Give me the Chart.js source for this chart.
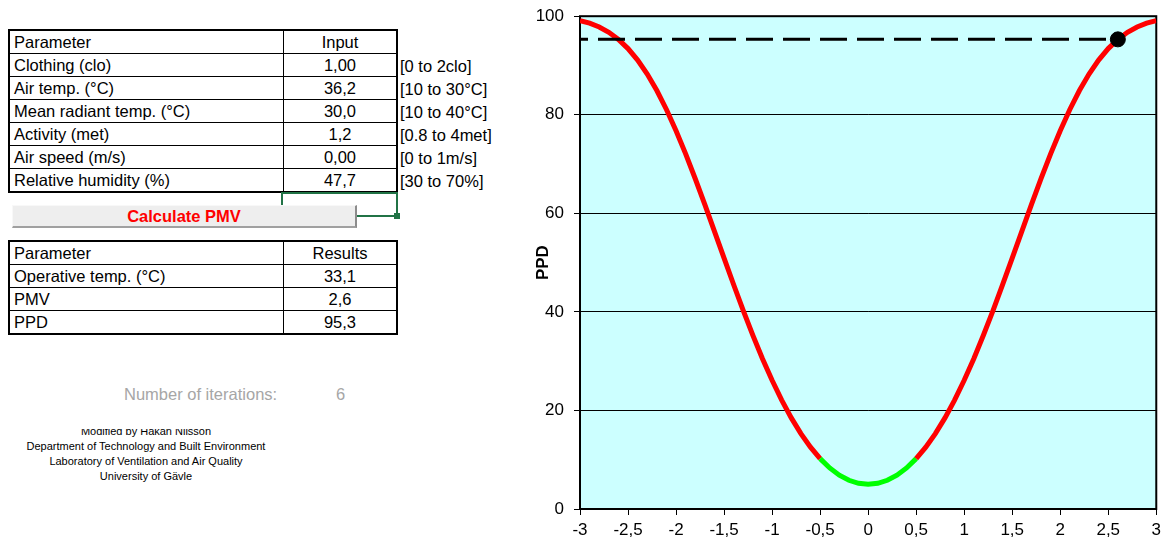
<!DOCTYPE html>
<html>
<head>
<meta charset="utf-8">
<script src="https://cdn.jsdelivr.net/npm/chart.js@4.4.1/dist/chart.umd.min.js"></script>
<style>
body { margin:0; width:1166px; height:544px; background:#fff; font-family:"Liberation Sans", Arial, sans-serif; position:relative; overflow:hidden; }
.tbl { position:absolute; left:8px; border-collapse:collapse; border:2px solid #000; font-size:16.5px; color:#000; }
.tbl td { border:1px solid #000; padding:0 4px; height:22px; line-height:20px; white-space:nowrap; }
.tbl td.c1 { width:265px; }
.tbl td.c2 { width:104px; text-align:center; }
.rng { position:absolute; left:400px; font-size:16.5px; line-height:20px; }
#sel { position:absolute; left:281px; top:192px; width:113px; height:21px; border:2px solid #217346; }
#selsq { position:absolute; left:394px; top:213px; width:6px; height:6px; background:#217346; }
#btn { position:absolute; left:12px; top:205px; width:342px; height:20px; background:#eeeeee; border-top:1px solid #f8f8f8; border-left:1px solid #f8f8f8; border-right:2px solid #8c8c8c; border-bottom:2px solid #a0a0a0; color:#ff0000; font-weight:bold; font-size:16.5px; text-align:center; line-height:21px; }
#iter { position:absolute; left:124px; top:385px; font-size:16.5px; color:#a6a6a6; }
#iterv { position:absolute; left:336px; top:385px; font-size:16.5px; color:#a6a6a6; }
#credits { position:absolute; left:0; top:429px; width:292px; height:60px; overflow:hidden; font-size:11px; text-align:center; color:#000; }
#credits div { line-height:15px; }
#chartBox { position:absolute; left:520px; top:-4px; width:646px; height:548px; }
</style>
</head>
<body>
<table class="tbl" style="top:29px">
<tr><td class="c1">Parameter</td><td class="c2">Input</td></tr>
<tr><td class="c1">Clothing (clo)</td><td class="c2">1,00</td></tr>
<tr><td class="c1">Air temp. (°C)</td><td class="c2">36,2</td></tr>
<tr><td class="c1">Mean radiant temp. (°C)</td><td class="c2">30,0</td></tr>
<tr><td class="c1">Activity (met)</td><td class="c2">1,2</td></tr>
<tr><td class="c1">Air speed (m/s)</td><td class="c2">0,00</td></tr>
<tr><td class="c1">Relative humidity (%)</td><td class="c2">47,7</td></tr>
</table>
<div class="rng" style="top:56px">[0 to 2clo]</div>
<div class="rng" style="top:79px">[10 to 30°C]</div>
<div class="rng" style="top:102px">[10 to 40°C]</div>
<div class="rng" style="top:125px">[0.8 to 4met]</div>
<div class="rng" style="top:148px">[0 to 1m/s]</div>
<div class="rng" style="top:171px">[30 to 70%]</div>
<div id="sel"></div><div id="selsq"></div>
<div id="btn">Calculate PMV</div>
<table class="tbl" style="top:240px">
<tr><td class="c1">Parameter</td><td class="c2">Results</td></tr>
<tr><td class="c1">Operative temp. (°C)</td><td class="c2">33,1</td></tr>
<tr><td class="c1">PMV</td><td class="c2">2,6</td></tr>
<tr><td class="c1">PPD</td><td class="c2">95,3</td></tr>
</table>
<div id="iter">Number of iterations:</div>
<div id="iterv">6</div>
<div id="credits"><div style="margin-top:-5px">Modified by Håkan Nilsson</div><div>Department of Technology and Built Environment</div><div>Laboratory of Ventilation and Air Quality</div><div>University of Gävle</div></div>
<div id="chartBox"><canvas id="ppdChart"></canvas></div>
<script>
// PMV / PPD curve
var pmv = [-3,-2.9,-2.8,-2.7,-2.6,-2.5,-2.4,-2.3,-2.2,-2.1,-2,-1.9,-1.8,-1.7,-1.6,-1.5,-1.4,-1.3,-1.2,-1.1,-1,-0.9,-0.8,-0.7,-0.6,-0.5,-0.4,-0.3,-0.2,-0.1,0,
  0.1,0.2,0.3,0.4,0.5,0.6,0.7,0.8,0.9,1,1.1,1.2,1.3,1.4,1.5,1.6,1.7,1.8,1.9,2,2.1,2.2,2.3,2.4,2.5,2.6,2.7,2.8,2.9,3];
var ppd = [99.12,98.58,97.81,96.73,95.30,93.43,91.10,88.26,84.91,81.07,76.76,72.06,67.02,61.75,56.35,50.90,45.51,40.27,35.25,30.51,26.12,22.10,18.49,15.30,12.55,10.22,8.33,6.87,5.83,5.21,5.00,
  5.21,5.83,6.87,8.33,10.22,12.55,15.30,18.49,22.10,26.12,30.51,35.25,40.27,45.51,50.90,56.35,61.75,67.02,72.06,76.76,81.07,84.91,88.26,91.10,93.43,95.30,96.73,97.81,98.58,99.12];
var currentPmv = [2.6];
var currentPpd = [95.3];
var refPmv = [-3, 2.6];
var refPpd = [95.3, 95.3];
var xTicks = [-3,-2.5,-2,-1.5,-1,-0.5,0,0.5,1,1.5,2,2.5,3];
var yTicks = [0,20,40,60,80,100];

function pts(xs, ys) {
  var out = [];
  for (var i = 0; i < xs.length; i++) out.push({x: xs[i], y: ys[i]});
  return out;
}

var plotFrame = {
  id: 'plotFrame',
  beforeDraw: function(chart) {
    var a = chart.chartArea, c = chart.ctx;
    c.save();
    c.fillStyle = '#ccffff';
    c.fillRect(a.left, a.top, a.right - a.left, a.bottom - a.top);
    c.restore();
  },
  beforeDatasetsDraw: function(chart) {
    var a = chart.chartArea, c = chart.ctx;
    c.save();
    c.strokeStyle = '#000';
    c.lineWidth = 2;
    c.strokeRect(a.left, a.top, a.right - a.left, a.bottom - a.top);
    c.restore();
  }
};

var ctx = document.getElementById('ppdChart').getContext('2d');
var ppdChart = new Chart(ctx, {
  type: 'scatter',
  data: {
    datasets: [
      {
        data: pts(currentPmv, currentPpd),
        showLine: false,
        pointRadius: 7.5,
        pointBackgroundColor: '#000',
        pointBorderColor: '#000',
        order: 0
      },
      {
        data: pts(refPmv, refPpd),
        showLine: true,
        borderColor: '#000',
        borderWidth: 3,
        borderDash: [27, 10],
        borderDashOffset: 19,
        pointRadius: 0,
        order: 1
      },
      {
        data: pts(pmv, ppd),
        showLine: true,
        borderWidth: 5,
        borderColor: '#ff0000',
        pointRadius: 0,
        tension: 0,
        segment: {
          borderColor: function(s) {
            return (s.p0.parsed.x >= -0.5 && s.p1.parsed.x <= 0.5) ? '#00ff00' : '#ff0000';
          }
        },
        order: 2
      }
    ]
  },
  options: {
    responsive: true,
    maintainAspectRatio: false,
    animation: false,
    layout: { padding: { top: 9, right: 9, bottom: 0, left: 0 } },
    plugins: { legend: { display: false }, tooltip: { enabled: false } },
    scales: {
      x: {
        type: 'linear', min: -3, max: 3,
        afterFit: function(s) { s.height = 35; },
        afterBuildTicks: function(s) { s.ticks = xTicks.map(function(v) { return {value: v}; }); },
        grid: { drawOnChartArea: false, drawTicks: true, tickLength: 6, color: '#000' },
        border: { display: false },
        ticks: {
          color: '#000', padding: 5, maxRotation: 0,
          font: { family: '"Liberation Sans", Arial', size: 17 },
          callback: function(v) { return String(v).replace('.', ','); }
        }
      },
      y: {
        min: 0, max: 100,
        afterFit: function(s) { s.width = 60; },
        afterBuildTicks: function(s) { s.ticks = yTicks.map(function(v) { return {value: v}; }); },
        grid: { color: '#000', lineWidth: 1, tickLength: 6 },
        border: { display: false },
        ticks: {
          color: '#000', padding: 10,
          font: { family: '"Liberation Sans", Arial', size: 17 }
        },
        title: {
          display: true, text: 'PPD', color: '#000',
          font: { family: '"Liberation Sans", Arial', size: 17, weight: 'bold' },
          padding: { top: 13, bottom: 0 }
        }
      }
    }
  },
  plugins: [plotFrame]
});
</script>
</body>
</html>
